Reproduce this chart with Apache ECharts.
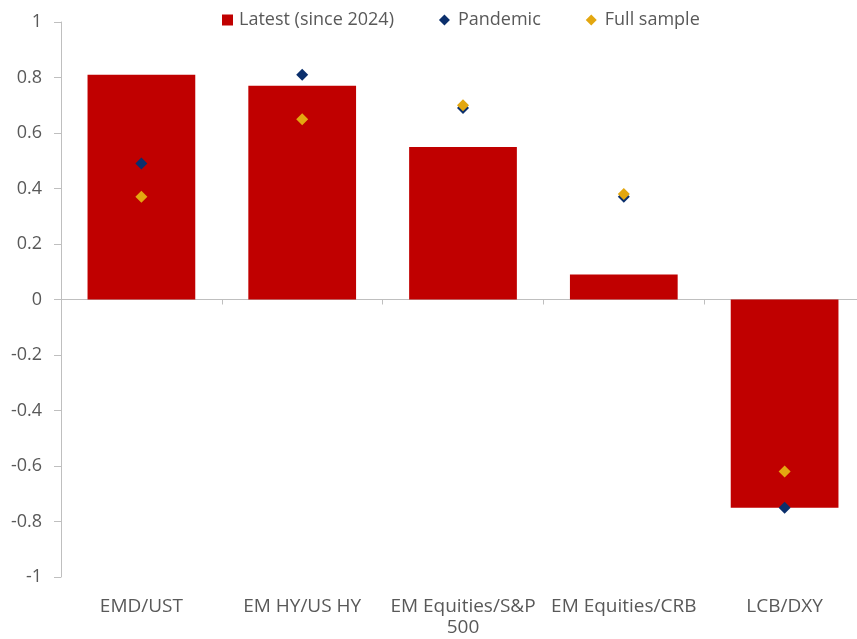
<!DOCTYPE html>
<html>
<head>
<meta charset="utf-8">
<script src="https://cdn.jsdelivr.net/npm/echarts@6/dist/echarts.min.js"></script>
<style>
  html, body { margin: 0; padding: 0; background: #ffffff; overflow: hidden; }
  #chart { width: 865px; height: 639px; }
</style>
</head>
<body>
<div id="chart"></div>
<script>
// Correlation pairs and their values over three windows
const categories = ['EMD/UST', 'EM HY/US HY', 'EM Equities/S&P\n500', 'EM Equities/CRB', 'LCB/DXY'];
const latest = [0.81, 0.77, 0.55, 0.09, -0.75];
const pandemic = [0.49, 0.81, 0.69, 0.37, -0.75];
const fullSample = [0.37, 0.65, 0.70, 0.38, -0.62];

const textColor = '#595959';
const axisColor = '#bfbfbf';
const fontFamily = '"Open Sans", "Noto Sans", sans-serif';

const chart = echarts.init(document.getElementById('chart'), null, { renderer: 'canvas' });

chart.setOption({
  backgroundColor: '#ffffff',
  animation: false,
  textStyle: { fontFamily: fontFamily },
  legend: {
    left: 222,
    top: 11,
    padding: 0,
    itemWidth: 11,
    itemHeight: 11,
    itemGap: 45,
    textStyle: { color: textColor, fontSize: 18, fontFamily: fontFamily, padding: [0, 0, 0, 1] },
    data: [
      { name: 'Latest (since 2024)', icon: 'rect' },
      { name: 'Pandemic', icon: 'diamond', textStyle: { padding: [0, 0, 0, 3] } },
      { name: 'Full sample', icon: 'diamond', textStyle: { padding: [0, 0, 0, 3] } }
    ]
  },
  grid: { left: 61, right: 0, top: 22, bottom: 62, containLabel: false },
  xAxis: [
    {
      // axis line through zero with boundary ticks
      type: 'category',
      data: categories,
      axisLine: { onZero: true, lineStyle: { color: axisColor, width: 1 } },
      axisTick: { show: true, length: 5, lineStyle: { color: axisColor } },
      axisLabel: { show: false },
      splitLine: { show: false }
    },
    {
      // category labels along the bottom edge
      type: 'category',
      data: categories,
      position: 'bottom',
      axisLine: { show: false, onZero: false },
      axisTick: { show: false },
      axisLabel: {
        show: true,
        interval: 0,
        color: textColor,
        fontSize: 19,
        margin: 19,
        lineHeight: 21,
        fontFamily: fontFamily
      },
      splitLine: { show: false }
    }
  ],
  yAxis: {
    type: 'value',
    min: -1,
    max: 1,
    interval: 0.2,
    axisLine: { show: true, lineStyle: { color: axisColor } },
    axisTick: { show: true, length: 7, lineStyle: { color: axisColor } },
    axisLabel: {
      color: textColor,
      fontSize: 18,
      margin: 19,
      fontFamily: fontFamily,
      formatter: v => String(Math.round(v * 10) / 10)
    },
    splitLine: { show: false }
  },
  series: [
    {
      name: 'Latest (since 2024)',
      type: 'bar',
      xAxisIndex: 0,
      data: latest,
      barWidth: '67%',
      itemStyle: { color: '#c00000' },
      z: 1
    },
    {
      name: 'Pandemic',
      type: 'scatter',
      xAxisIndex: 0,
      data: pandemic,
      symbol: 'diamond',
      symbolSize: 12,
      itemStyle: { color: '#0b2f6c', opacity: 1 },
      z: 3
    },
    {
      name: 'Full sample',
      type: 'scatter',
      xAxisIndex: 0,
      data: fullSample,
      symbol: 'diamond',
      symbolSize: 12,
      itemStyle: { color: '#e3a710', opacity: 1 },
      z: 4
    }
  ]
});
</script>
</body>
</html>
